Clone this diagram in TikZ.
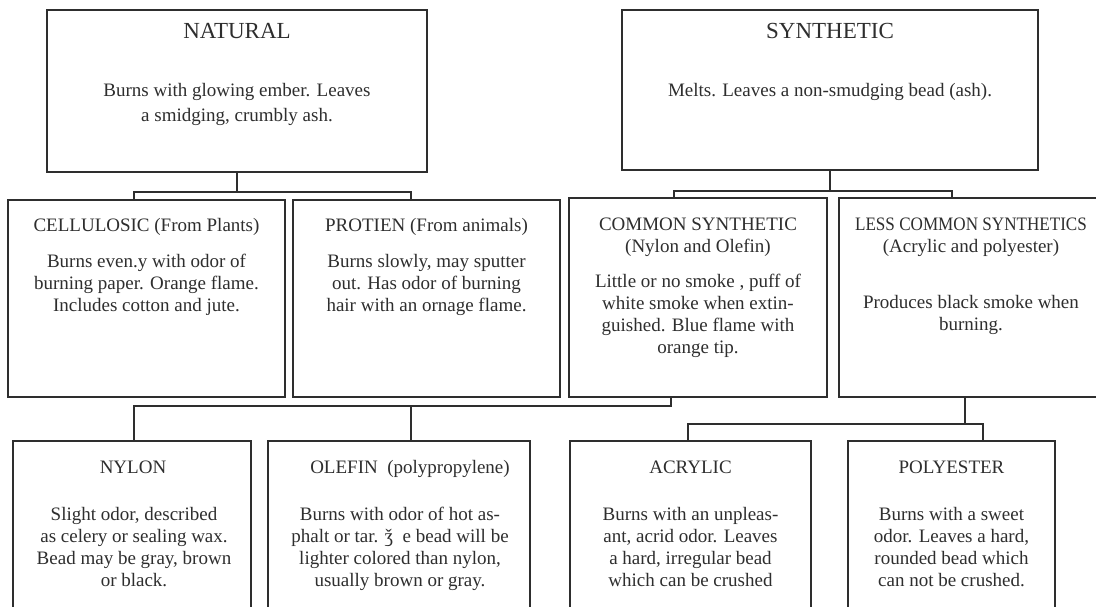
\documentclass[tikz,border=0pt]{standalone}
\usepackage{fontspec}
\usepackage{graphicx}
\setmainfont{Liberation Serif}
\newcommand{\ml}[1]{\begin{tabular}[t]{@{}c@{}}#1\end{tabular}}
\definecolor{ink}{HTML}{2E2E2E}
\begin{document}
\begin{tikzpicture}[x=1pt,y=-1pt,
  box/.style={draw=ink, line width=1.9pt, inner sep=0pt, outer sep=0pt, anchor=north west},
  conn/.style={draw=ink, line width=1.9pt},
  ttl/.style={text=ink, inner sep=0pt, anchor=base, font=\fontsize{23}{26}\selectfont},
  txt/.style={text=ink, inner sep=0pt, anchor=base, font=\fontsize{19}{22}\selectfont},
  toptxt/.style={txt, font=\fontsize{19}{24.5}\selectfont}]
\useasboundingbox (0,0) rectangle (1096,606);
\clip (0,0) rectangle (1096,606);
\fill[white] (0,0) rectangle (1096,606);
% boxes
\node[box, minimum width=380pt, minimum height=162pt] (nat) at (47,10) {};
\node[box, minimum width=416pt, minimum height=160pt] (syn) at (622,10) {};
\node[box, minimum width=277pt, minimum height=197pt] (cell) at (8,200) {};
\node[box, minimum width=267pt, minimum height=197pt] (prot) at (293,200) {};
\node[box, minimum width=258pt, minimum height=199pt] (comm) at (569,198) {};
\node[box, minimum width=280pt, minimum height=199pt] (less) at (839,198) {};
\node[box, minimum width=238pt, minimum height=200pt] (nylon) at (13,441) {};
\node[box, minimum width=262pt, minimum height=200pt] (olefin) at (268,441) {};
\node[box, minimum width=241pt, minimum height=200pt] (acryl) at (570,441) {};
\node[box, minimum width=207pt, minimum height=200pt] (poly) at (848,441) {};
% texts
\node[ttl] (natT) at (237,38) {NATURAL};
\node[toptxt] (natB) at (237,96.5) {\ml{Burns with glowing ember. Leaves\\a smidging, crumbly ash.}};
\node[ttl] (synT) at (830,38) {SYNTHETIC};
\node[toptxt] (synB) at (830,96.5) {\ml{Melts. Leaves a non-smudging bead (ash).}};
\node[txt] (cellT) at (146.5,231.5) {CELLULOSIC (From Plants)};
\node[txt] (cellB) at (146.5,267) {\ml{Burns even.y with odor of\\burning paper. Orange flame.\\Includes cotton and jute.}};
\node[txt] (protT) at (426.5,231.5) {PROTIEN (From animals)};
\node[txt] (protB) at (426.5,267) {\ml{Burns slowly, may sputter\\out. Has odor of burning\\hair with an ornage flame.}};
\node[txt] (commT) at (698,230) {\ml{COMMON SYNTHETIC\\(Nylon and Olefin)}};
\node[txt] (commB) at (698,287) {\ml{Little or no smoke , puff of\\white smoke when extin-\\guished. Blue flame with\\orange tip.}};
\node[txt] (lessT) at (971,230) {\ml{\scalebox{0.9}[1]{LESS COMMON SYNTHETICS}\\(Acrylic and polyester)}};
\node[txt] (lessB) at (971,308) {\ml{Produces black smoke when\\burning.}};
\node[txt] (nylonT) at (133,473) {NYLON};
\node[txt] (nylonB) at (134,520) {\ml{Slight odor, described\\as celery or sealing wax.\\Bead may be gray, brown\\or black.}};
\node[txt] (olefinT) at (410,473) {OLEFIN\ \ (polypropylene)};
\node[txt] (olefinB) at (400,520) {\ml{Burns with odor of hot as-\\phalt or tar. ǯ\ \ e bead will be\\lighter colored than nylon,\\usually brown or gray.}};
\node[txt] (acrylT) at (690.5,473) {ACRYLIC};
\node[txt] (acrylB) at (690.5,520) {\ml{Burns with an unpleas-\\ant, acrid odor. Leaves\\a hard, irregular bead\\which can be crushed}};
\node[txt] (polyT) at (951.5,473) {POLYESTER};
\node[txt] (polyB) at (951.5,520) {\ml{Burns with a sweet\\odor. Leaves a hard,\\rounded bead which\\can not be crushed.}};
% connectors
\coordinate (nb1) at (134,192); \coordinate (nb2) at (411,192);
\draw[conn] (nat.south) -- (nat.south |- nb1);
\draw[conn] (cell.north -| nb1) -- (nb1) -- (nb2) -- (prot.north -| nb2);
\coordinate (sb1) at (674,191); \coordinate (sb2) at (952,191);
\draw[conn] (syn.south) -- (syn.south |- sb1);
\draw[conn] (comm.north -| sb1) -- (sb1) -- (sb2) -- (less.north -| sb2);
\coordinate (cb0) at (671,406); \coordinate (cb1) at (134,406); \coordinate (cb2) at (411,406);
\draw[conn] (comm.south -| cb0) -- (cb0) -- (cb1) -- (nylon.north -| cb1);
\draw[conn] (cb2) -- (olefin.north -| cb2);
\coordinate (lb0) at (965,424); \coordinate (lb1) at (688,424); \coordinate (lb2) at (983,424);
\draw[conn] (less.south -| lb0) -- (lb0);
\draw[conn] (acryl.north -| lb1) -- (lb1) -- (lb2) -- (poly.north -| lb2);
\end{tikzpicture}
\end{document}
